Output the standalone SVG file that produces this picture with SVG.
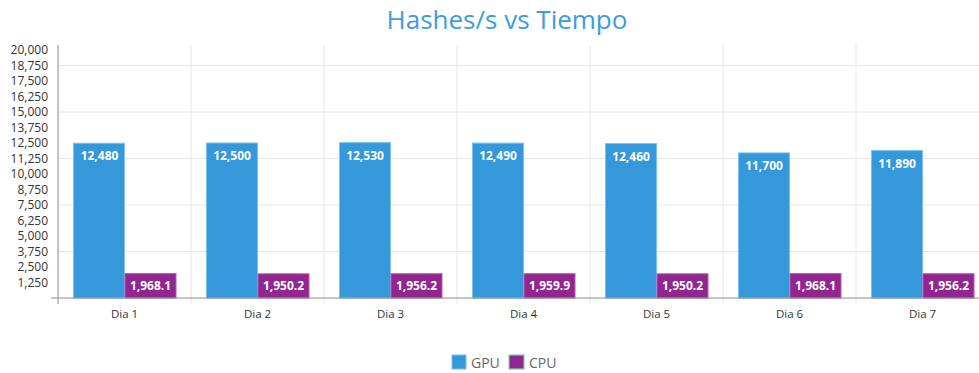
<svg xmlns="http://www.w3.org/2000/svg" width="979" height="373" viewBox="0 0 979 373">
<style>
.grid{stroke:#e6e6e6;stroke-width:1;fill:none}
.axis{stroke:#8c8c8c;stroke-width:1;fill:none}
.ylab{font-family:"Open Sans","Liberation Sans",sans-serif;font-size:12px;fill:#333;text-anchor:end}
.xlab{font-family:"Open Sans","Liberation Sans",sans-serif;font-size:11.5px;fill:#333;text-anchor:middle}
.gpu{fill:#3498db;stroke:#7cc0ee;stroke-width:1}
.cpu{fill:#91268f;stroke:#b45ab2;stroke-width:1}
.val{font-family:"Open Sans","Liberation Sans",sans-serif;font-size:12px;font-weight:bold;fill:#fff;text-anchor:middle}
.leg{font-family:"Open Sans","Liberation Sans",sans-serif;font-size:14px;fill:#666}
</style>
<rect width="979" height="373" fill="#fff"/>
<text x="507" y="28.5" font-family="'Open Sans','Liberation Sans',sans-serif" font-size="26" fill="#3b9ddd" text-anchor="middle">Hashes/s vs Tiempo</text>
<g id="grid">
<line class="grid" x1="58" y1="65.5" x2="979" y2="65.5"/>
<line class="grid" x1="58" y1="112" x2="979" y2="112"/>
<line class="grid" x1="58" y1="158.5" x2="979" y2="158.5"/>
<line class="grid" x1="58" y1="205" x2="979" y2="205"/>
<line class="grid" x1="58" y1="251.5" x2="979" y2="251.5"/>
<line class="grid" x1="191" y1="45" x2="191" y2="304"/>
<line class="grid" x1="324" y1="45" x2="324" y2="304"/>
<line class="grid" x1="457" y1="45" x2="457" y2="304"/>
<line class="grid" x1="590" y1="45" x2="590" y2="304"/>
<line class="grid" x1="723" y1="45" x2="723" y2="304"/>
<line class="grid" x1="856" y1="45" x2="856" y2="304"/>
</g>
<g id="y-axis">
<text class="ylab" x="48" y="54">20,000</text>
<text class="ylab" x="48" y="69.5">18,750</text>
<text class="ylab" x="48" y="85">17,500</text>
<text class="ylab" x="48" y="100.5">16,250</text>
<text class="ylab" x="48" y="116">15,000</text>
<text class="ylab" x="48" y="131.5">13,750</text>
<text class="ylab" x="48" y="147">12,500</text>
<text class="ylab" x="48" y="162.5">11,250</text>
<text class="ylab" x="48" y="178">10,000</text>
<text class="ylab" x="48" y="193.5">8,750</text>
<text class="ylab" x="48" y="209">7,500</text>
<text class="ylab" x="48" y="224.5">6,250</text>
<text class="ylab" x="48" y="240">5,000</text>
<text class="ylab" x="48" y="255.5">3,750</text>
<text class="ylab" x="48" y="271">2,500</text>
<text class="ylab" x="48" y="286.5">1,250</text>
</g>
<g id="bars-gpu">
<rect class="gpu" x="73.5" y="143.25" width="51" height="154.75"/>
<rect class="gpu" x="206.5" y="143" width="51" height="155"/>
<rect class="gpu" x="339.5" y="142.63" width="51" height="155.37"/>
<rect class="gpu" x="472.5" y="143.12" width="51" height="154.88"/>
<rect class="gpu" x="605.5" y="143.5" width="51" height="154.5"/>
<rect class="gpu" x="738.5" y="152.92" width="51" height="145.08"/>
<rect class="gpu" x="871.5" y="150.56" width="51" height="147.44"/>
<text class="val" x="99.5" y="160">12,480</text>
<text class="val" x="232" y="160">12,500</text>
<text class="val" x="365" y="159.5">12,530</text>
<text class="val" x="498" y="160">12,490</text>
<text class="val" x="631" y="160.5">12,460</text>
<text class="val" x="764" y="170">11,700</text>
<text class="val" x="897" y="167.5">11,890</text>
</g>
<g id="bars-cpu">
<rect class="cpu" x="125" y="273.6" width="51" height="24.4"/>
<rect class="cpu" x="258" y="273.82" width="51" height="24.18"/>
<rect class="cpu" x="391" y="273.74" width="51" height="24.26"/>
<rect class="cpu" x="524" y="273.7" width="51" height="24.3"/>
<rect class="cpu" x="657" y="273.82" width="51" height="24.18"/>
<rect class="cpu" x="790" y="273.6" width="51" height="24.4"/>
<rect class="cpu" x="923" y="273.74" width="51" height="24.26"/>
<text class="val" x="150.5" y="289.5">1,968.1</text>
<text class="val" x="283.5" y="289.5">1,950.2</text>
<text class="val" x="416.5" y="289.5">1,956.2</text>
<text class="val" x="549.5" y="289.5">1,959.9</text>
<text class="val" x="682.5" y="289.5">1,950.2</text>
<text class="val" x="815.5" y="289.5">1,968.1</text>
<text class="val" x="948.5" y="289.5">1,956.2</text>
</g>
<g id="axes">
<line class="axis" x1="58" y1="45" x2="58" y2="304"/>
<line class="axis" x1="51" y1="298" x2="979" y2="298"/>
</g>
<g id="x-axis">
<text class="xlab" x="124.5" y="318">Dia 1</text>
<text class="xlab" x="257.5" y="318">Dia 2</text>
<text class="xlab" x="390.5" y="318">Dia 3</text>
<text class="xlab" x="523.5" y="318">Dia 4</text>
<text class="xlab" x="656.5" y="318">Dia 5</text>
<text class="xlab" x="789.5" y="318">Dia 6</text>
<text class="xlab" x="922.5" y="318">Dia 7</text>
</g>
<g id="legend">
<rect x="452" y="355" width="14" height="14" fill="#3498db" stroke="#7cc0ee" stroke-width="1"/>
<text class="leg" x="471" y="368">GPU</text>
<rect x="509" y="355" width="15" height="14" fill="#91268f" stroke="#7fd39a" stroke-width="1.2"/>
<text class="leg" x="529" y="368">CPU</text>
</g>
</svg>
